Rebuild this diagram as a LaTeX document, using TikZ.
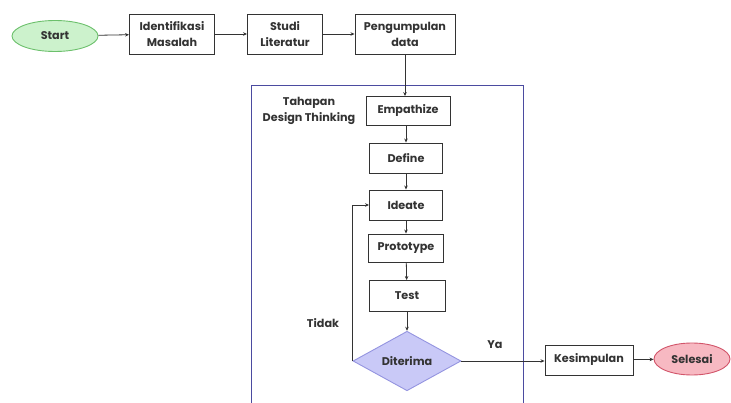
\documentclass[tikz,border=0pt]{standalone}
\usepackage{fontspec}
\setmainfont{Poppins}
\usetikzlibrary{shapes.geometric,arrows.meta}
\definecolor{startfill}{HTML}{CCF2CC}
\definecolor{startdraw}{HTML}{6CC06C}
\definecolor{endfill}{HTML}{F7B9C2}
\definecolor{enddraw}{HTML}{D2556A}
\definecolor{diafill}{HTML}{C9C9F7}
\definecolor{diadraw}{HTML}{9494E0}
\definecolor{framecol}{HTML}{4B4BA0}
\definecolor{linecol}{HTML}{333333}
\tikzset{
  every node/.style={font=\fontsize{11.2}{16}\selectfont\bfseries, text=black!80},
  procbox/.style={draw=linecol, line width=0.9pt, fill=white, rectangle, inner sep=0pt, align=center},
  term/.style={ellipse, line width=0.9pt, inner sep=0pt},
  conn/.style={draw=linecol, line width=0.8pt, -{Stealth[length=4pt,width=3.5pt]}},
  lbl/.style={align=center}
}
\begin{document}
\begin{tikzpicture}[x=1pt,y=-1pt]
\useasboundingbox (0,0) rectangle (731,403);
% frame
\draw[framecol, line width=1pt] (251,406) -- (251,86) -- (523,86) -- (523,406);
% top row
\node[term, fill=startfill, draw=startdraw, minimum width=86pt, minimum height=31pt] (start) at (55,36) {Start};
\node[procbox, minimum width=85pt, minimum height=40pt] (ident) at (172,34) {Identifikasi\\Masalah};
\node[procbox, minimum width=75pt, minimum height=40pt] (studi) at (285,34) {Studi\\Literatur};
\node[procbox, minimum width=100pt, minimum height=40pt] (peng) at (405,34) {Pengumpulan\\data};
% design thinking
\node[procbox, minimum width=84pt, minimum height=29pt] (emp) at (408,111) {Empathize};
\node[procbox, minimum width=73pt, minimum height=30pt] (def) at (406,158) {Define};
\node[procbox, minimum width=73pt, minimum height=30pt] (idea) at (406,205) {Ideate};
\node[procbox, minimum width=75pt, minimum height=28pt] (proto) at (406,248) {Prototype};
\node[procbox, minimum width=76pt, minimum height=31pt] (test) at (407,296) {Test};
\node[diamond, fill=diafill, draw=diadraw, line width=0.9pt, inner sep=0pt, minimum width=108pt, minimum height=57pt] (dia) at (407,361) {Diterima};
\node[procbox, minimum width=88pt, minimum height=30pt] (kes) at (589,360) {Kesimpulan};
\node[term, fill=endfill, draw=enddraw, minimum width=76pt, minimum height=32pt] (sel) at (692,359) {Selesai};
% labels
\node[lbl] (tahap) at (309,111) {Tahapan\\Design Thinking};
\node (tidak) at (323,323) {Tidak};
\node (ya) at (495,345) {Ya};
% connectors
\draw[conn] (start) -- (ident);
\draw[conn] (ident) -- (studi);
\draw[conn] (studi) -- (peng);
\draw[conn] (peng.south) -- (peng.south |- emp.north);
\draw[conn] (emp.south -| def.north) -- (def.north);
\draw[conn] (def) -- (idea);
\draw[conn] (idea) -- (proto);
\draw[conn] (proto) -- (test);
\draw[conn] (test) -- (dia);
\draw[conn] (dia.west) -- (dia.west |- idea.west) -- (idea.west);
\draw[conn] (dia.east) -- (dia.east -| kes.west);
\draw[conn] (kes) -- (sel);
\end{tikzpicture}
\end{document}
